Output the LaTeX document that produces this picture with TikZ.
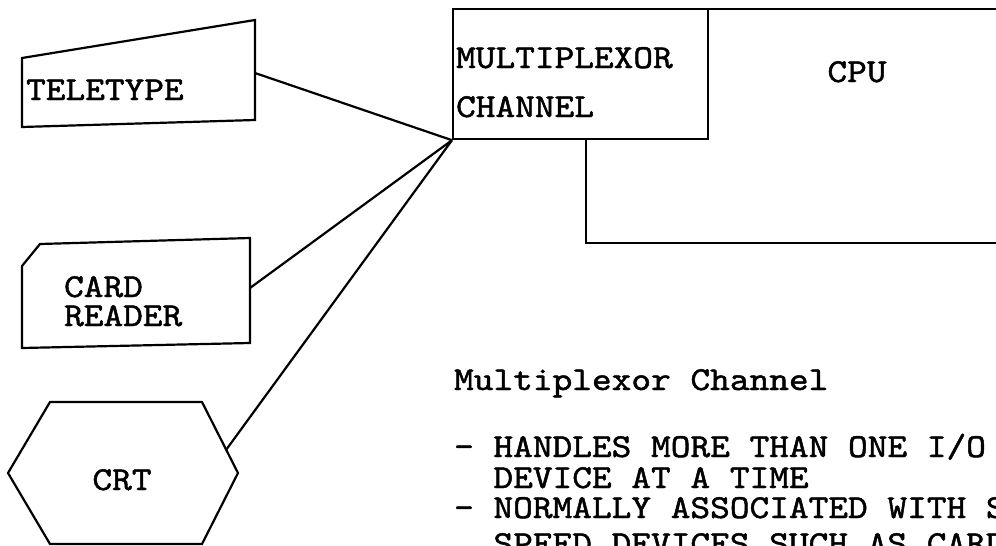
\documentclass[tikz,border=0pt]{standalone}
\usepackage{fontspec}
\newfontfamily\twfont[Extension=.otf, FakeBold=1.3]{lmmono10-regular}
\newcommand\twx[1]{\scalebox{1.12}[1]{#1}}
\begin{document}
\begin{tikzpicture}[x=1pt,y=-1pt, line width=2.2pt, line join=miter,
  tw/.style={font=\twfont\fontsize{33.5}{38}\selectfont, inner sep=0pt, anchor=base west},
  box/.style={draw, fill=white, inner sep=0pt, anchor=north west}]
\useasboundingbox (0,0) rectangle (996,546);
\fill[white] (0,0) rectangle (996,546);
\begin{scope}
\clip (0,0) rectangle (996,546);
% CPU and multiplexor channel
\node[box, minimum width=425pt, minimum height=234pt] (cpu) at (585,8) {};
\node[box, minimum width=255pt, minimum height=130pt] (mux) at (452,8) {};
\node[tw] (muxa) at (455,68) {\twx{MULTIPLEXOR}};
\node[tw] (muxb) at (455,117) {\twx{CHANNEL}};
\node[tw, anchor=base] (cputxt) at (857,82) {\twx{CPU}};
% teletype
\draw (22,58) -- (255,20) -- (255,120) -- (22,127) -- cycle;
\node[tw] (tttxt) at (25,100) {\twx{TELETYPE}};
\coordinate (tt) at (255,73);
% card reader
\draw (22,266) -- (40,244) -- (250,238) -- (250,343) -- (22,348) -- cycle;
\node[tw] (card) at (63,297) {\twx{CARD}};
\node[tw] (reader) at (63,326) {\twx{READER}};
\coordinate (cr) at (250,288);
% CRT
\draw (8,473) -- (50,402) -- (202,402) -- (238,473) -- (202,544) -- (50,544) -- cycle;
\node[tw, anchor=base] (crttxt) at (122,490) {\twx{CRT}};
\coordinate (crt) at (226,450);
% connectors
\draw (tt) -- (mux.south west);
\draw (cr) -- (mux.south west);
\draw (crt) -- (mux.south west);
% description
\node[tw] (t0) at (453,390) {\twx{Multiplexor Channel}};
\node[tw] (t1) at (453,457) {\twx{- HANDLES MORE THAN ONE I/O}};
\node[tw] (t2) at (453,488) {\twx{\phantom{- }DEVICE AT A TIME}};
\node[tw] (t3) at (453,518) {\twx{- NORMALLY ASSOCIATED WITH S}};
\node[tw] (t4) at (453,554) {\twx{\phantom{- }SPEED DEVICES SUCH AS CARD}};
\end{scope}
\end{tikzpicture}
\end{document}
